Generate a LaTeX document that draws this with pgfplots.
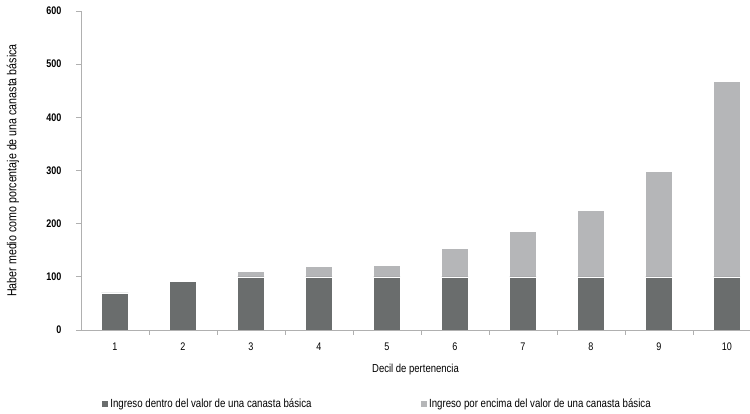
\documentclass[border=0pt]{standalone}
\usepackage{fontspec}
\setmainfont[FakeStretch=0.82]{Liberation Sans}
\usepackage{pgfplots}
\pgfplotsset{compat=1.18}
\definecolor{darkbar}{HTML}{6A6D6D}
\definecolor{lightbar}{HTML}{B5B6B8}
\definecolor{axisgray}{HTML}{B0B0B0}
\begin{document}
\begin{tikzpicture}
\useasboundingbox (-81pt,-84pt) rectangle (669pt,330pt);
\begin{axis}[
  at={(0pt,0pt)}, anchor=south west, scale only axis,
  width=669pt, height=319pt,
  ybar stacked, bar width=27pt,
  xmin=0.5, xmax=10.34, ymin=0, ymax=600,
  axis x line*=bottom, axis y line*=left,
  axis line style={axisgray, line width=0.9pt},
  tick align=outside,
  xtick={1,...,10},
  minor xtick={1.5,2.5,...,9.5},
  every major x tick/.append style={draw=none},
  every minor x tick/.append style={axisgray, line width=0.8pt},
  minor tick length=5pt,
  ytick={0,100,...,600},
  every major y tick/.append style={axisgray, line width=0.8pt},
  major tick length=5pt,
  /pgf/number format/assume math mode=true,
  xticklabel style={font=\fontsize{11}{13}\selectfont, yshift=-4pt},
  yticklabel style={font=\fontsize{11}{13}\selectfont\bfseries, xshift=-11pt},
  xlabel={Decil de pertenencia},
  ylabel={Haber medio como porcentaje de una canasta básica},
  every axis x label/.style={at={(axis description cs:0.5,-0.125)}, anchor=center, font=\fontsize{11.6}{14}\selectfont},
  every axis y label/.style={at={(axis description cs:-0.1016,0.5)}, rotate=90, anchor=center, font=\fontsize{13}{15}\selectfont},
  legend style={at={(axis description cs:0.025,-0.232)}, anchor=west, draw=none, fill=none,
    font=\fontsize{11.8}{13}\selectfont, /tikz/every even column/.append style={column sep=106pt}},
  legend columns=2,
  legend cell align=left,
  legend image code/.code={\fill[#1] (0pt,-3.5pt) rectangle (7pt,3.5pt);},
]
\addplot[fill=darkbar, draw=white, line width=0.5pt] coordinates {(1,70) (2,92) (3,100) (4,100) (5,100) (6,100) (7,100) (8,100) (9,100) (10,100)};
\addlegendentry{Ingreso dentro del valor de una canasta básica}
\addplot[fill=lightbar, draw=white, line width=0.5pt] coordinates {(1,0) (2,0) (3,10) (4,19) (5,21) (6,53) (7,85) (8,125) (9,198) (10,368)};
\addlegendentry{Ingreso por encima del valor de una canasta básica}
\end{axis}
\end{tikzpicture}
\end{document}
